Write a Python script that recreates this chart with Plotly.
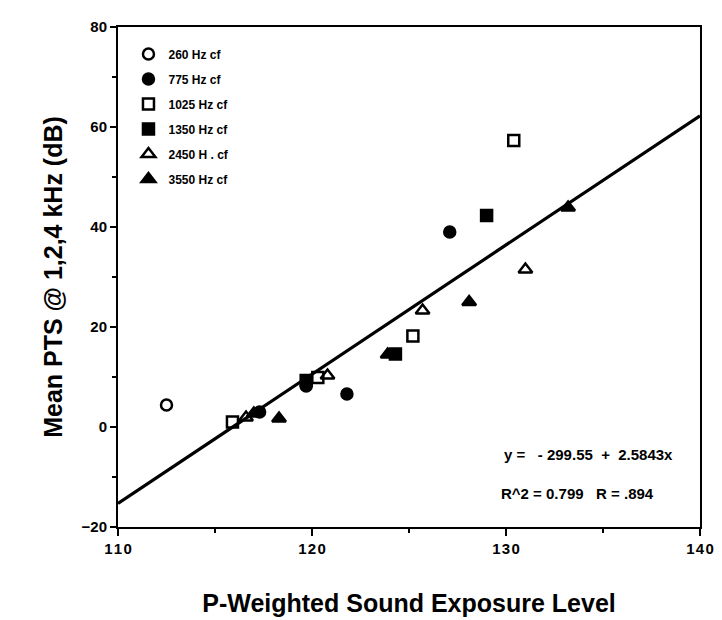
import plotly.graph_objects as go

# ---- data ----
series_names = ["260 Hz cf", "775 Hz cf", "1025 Hz cf", "1350 Hz cf", "2450 H . cf", "3550 Hz cf"]
x_260 = [112.5]
y_260 = [4.4]
x_775 = [117.3, 119.7, 121.8, 127.1]
y_775 = [3.0, 8.2, 6.6, 39.0]
x_1025 = [115.9, 120.3, 125.2, 130.4]
y_1025 = [1.0, 9.9, 18.2, 57.3]
x_1350 = [119.7, 124.3, 129.0]
y_1350 = [9.3, 14.6, 42.3]
x_2450 = [116.6, 120.8, 125.7, 131.0]
y_2450 = [1.9, 10.3, 23.3, 31.5]
x_3550 = [117.0, 118.3, 123.9, 128.1, 133.2]
y_3550 = [2.7, 1.7, 14.5, 25.0, 43.9]

fit_intercept = -299.55
fit_slope = 2.5843
fit_x = [110, 140]

x_tickvals = [110, 120, 130, 140]
x_ticktext = ["1\u200a1\u200a0", "1\u200a2\u200a0", "1\u200a3\u200a0", "1\u200a4\u200a0"]
y_tickvals = [-20, 0, 20, 40, 60, 80]

symbols = ["circle-open", "circle", "square-open", "square", "triangle-up-open", "triangle-up"]
xs = [x_260, x_775, x_1025, x_1350, x_2450, x_3550]
ys = [y_260, y_775, y_1025, y_1350, y_2450, y_3550]

FONT = "Liberation Sans, Arial, sans-serif"

fig = go.Figure()
for i, (name, sx, sy, sym) in enumerate(zip(series_names, xs, ys, symbols)):
    fig.add_trace(go.Scatter(
        x=sx, y=sy, mode="markers", name=name, legendgroup=f"g{i}",
        marker=dict(symbol=sym, size=11 if "triangle" not in sym else 12, color="black",
                    line=dict(color="black", width=2.5)),
    ))

fig.add_trace(go.Scatter(
    x=fit_x, y=[fit_intercept + fit_slope * v for v in fit_x],
    mode="lines", line=dict(color="black", width=3.2), showlegend=False,
))

fig.add_annotation(x=0.808, y=0.146, xref="paper", yref="paper", xanchor="center", yanchor="middle",
                   text="y =   - 299.55  +  2.5843x", showarrow=False,
                   font=dict(family=FONT, size=15, color="black", weight="bold"))
fig.add_annotation(x=0.79, y=0.066, xref="paper", yref="paper", xanchor="center", yanchor="middle",
                   text="R^2 = 0.799   R = .894", showarrow=False,
                   font=dict(family=FONT, size=15, color="black", weight="bold"))

fig.update_layout(
    width=722, height=620,
    margin=dict(l=110, r=30, t=10, b=101),
    paper_bgcolor="white", plot_bgcolor="white",
    font=dict(family=FONT, color="black"),
    legend=dict(x=0.018, y=0.975, xanchor="left", yanchor="top",
                bgcolor="rgba(0,0,0,0)", tracegroupgap=6, traceorder="grouped",
                font=dict(family=FONT, size=12, color="black", weight="bold"),
                itemwidth=30),
)
fig.update_xaxes(
    range=[110, 140], tickvals=x_tickvals, ticktext=x_ticktext,
    showgrid=False, zeroline=False, showline=True, linecolor="black", linewidth=2, mirror=True,
    ticks="outside", ticklen=7, tickwidth=2, tickcolor="black",
    minor=dict(tickvals=[115, 125, 135], ticks="outside", ticklen=4, tickwidth=1.5, tickcolor="black"),
    tickfont=dict(family=FONT, size=15, color="black", weight="bold"),
    title=dict(text="P-Weighted Sound Exposure Level", standoff=38,
               font=dict(family=FONT, size=25, color="black", weight="bold")),
)
fig.update_yaxes(
    range=[-20, 80], tickvals=y_tickvals,
    showgrid=False, zeroline=False, showline=True, linecolor="black", linewidth=2, mirror=True,
    ticks="outside", ticklen=6, tickwidth=2, tickcolor="black",
    minor=dict(tickvals=[-10, 10, 30, 50, 70], ticks="outside", ticklen=4, tickwidth=1.5, tickcolor="black"),
    tickfont=dict(family=FONT, size=15, color="black", weight="bold"),
    title=dict(text="Mean PTS @ 1,2,4 kHz (dB)", standoff=12,
               font=dict(family=FONT, size=25, color="black", weight="bold")),
)

fig.write_html("out.html")
